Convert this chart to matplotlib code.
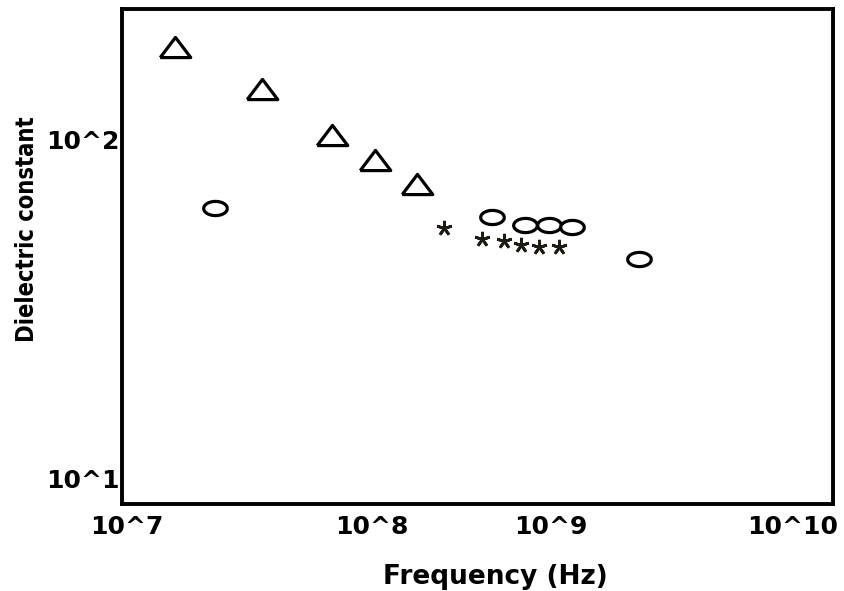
import numpy as np
import matplotlib
matplotlib.use("Agg")
import matplotlib.pyplot as plt
from matplotlib.ticker import NullLocator, FixedLocator, FixedFormatter

# ---- data ----
tri_freq = [1.67e7, 3.90e7, 7.69e7, 1.17e8, 1.76e8]
tri_eps = [188, 141.6, 103.5, 87.3, 74.1]

circ_freq = [2.47e7, 3.64e8, 5.01e8, 6.33e8, 7.92e8, 1.52e9]
circ_eps = [62.9, 59.2, 56.0, 56.0, 55.3, 44.5]

star_freq = [2.28e8, 3.30e8, 4.09e8, 4.83e8, 5.75e8, 6.98e8]
star_eps = [54.9, 50.9, 50.2, 48.9, 48.3, 48.3]

xtick_labels = ["10^7", "10^8", "10^9", "10^10"]
ytick_labels = ["10^1", "10^2"]
ytick_values = [10, 100]
x_label = "Frequency (Hz)"
y_label = "Dielectric constant"

# ---- layout ----
W, H, DPI = 845, 591, 100
fig = plt.figure(figsize=(W / DPI, H / DPI), dpi=DPI)
ax = fig.add_axes([122 / W, 1 - 504 / H, (833 - 122) / W, (504 - 9) / H])
ax.set_xscale("log")
ax.set_yscale("log")
ax.set_xlim(1e7, 1e10)
ax.set_ylim(8.38, 244)

# wide triangle and flattened ellipse markers
tri_marker = [(-1.0, -0.66), (1.0, -0.66), (0.0, 0.66), (-1.0, -0.66)]
t = np.linspace(0, 2 * np.pi, 60)
ell_marker = list(zip(np.cos(t), 0.6 * np.sin(t)))

ax.plot(tri_freq, tri_eps, linestyle="none", marker=tri_marker, markersize=22,
        markerfacecolor="white", markeredgecolor="black", markeredgewidth=2.3)
ax.plot(circ_freq, circ_eps, linestyle="none", marker=ell_marker, markersize=17,
        markerfacecolor="white", markeredgecolor="black", markeredgewidth=2.3)
ax.plot(star_freq, star_eps, linestyle="none", marker=(5, 2, 0), markersize=11,
        markeredgecolor="#1e1a14", markeredgewidth=2.0)

for s in ax.spines.values():
    s.set_linewidth(2.8)
    s.set_color("black")

# tick labels (visual positions of the reference labels)
xtick_exp = [7.02, 8.055, 8.81, 9.83]
ax.xaxis.set_major_locator(FixedLocator([10 ** e for e in xtick_exp]))
ax.xaxis.set_major_formatter(FixedFormatter(xtick_labels))
ax.xaxis.set_minor_locator(NullLocator())
ax.yaxis.set_major_locator(FixedLocator(ytick_values))
ax.yaxis.set_major_formatter(FixedFormatter(ytick_labels))
ax.yaxis.set_minor_locator(NullLocator())
ax.tick_params(axis="both", length=0, labelsize=18)
ax.tick_params(axis="x", pad=8)
ax.tick_params(axis="y", pad=2)
for lab in ax.get_xticklabels() + ax.get_yticklabels():
    lab.set_fontweight("bold")

fig.text(495 / W, 1 - 577 / H, x_label, ha="center", va="center",
         fontsize=19, fontweight="bold")
fig.text(27 / W, 1 - 229 / H, y_label, ha="center", va="center",
         rotation=90, fontsize=17, fontweight="bold", fontstretch="condensed")

fig.savefig("out.png", dpi=DPI)
